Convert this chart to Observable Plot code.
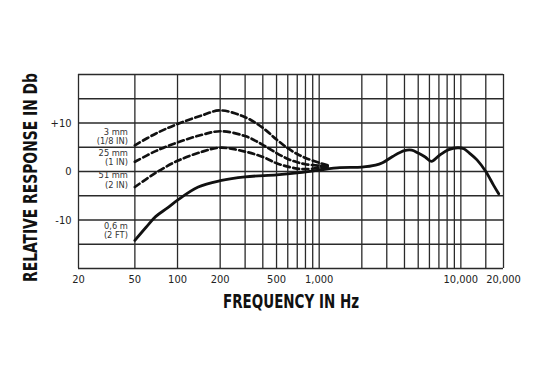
<!DOCTYPE html>
<html><head><meta charset="utf-8">
<script src="https://cdn.jsdelivr.net/npm/d3@7"></script>
<script src="https://cdn.jsdelivr.net/npm/@observablehq/plot@0.6"></script>
<style>
html,body{margin:0;padding:0;background:#fff;}
</style></head><body><div id="chart"></div>
<script>
// Proximity-effect frequency response
const dashFreq = [50, 70, 100, 150, 200, 300, 400, 500, 600, 700, 800, 1000, 1200];
const resp3mm  = [5.4, 7.8, 9.8, 11.6, 12.6, 11.2, 9.0, 6.6, 4.8, 3.6, 2.8, 1.8, 1.1];
const resp25mm = [2.0, 4.2, 6.0, 7.6, 8.3, 7.3, 5.5, 3.8, 2.6, 1.9, 1.5, 1.2, 1.0];
const resp51mm = [-3.2, -0.3, 2.2, 4.1, 4.9, 4.1, 3.0, 1.7, 1.0, 0.6, 0.5, 0.7, 1.0];
const farFreq  = [50, 60, 70, 85, 100, 140, 200, 300, 500, 700, 1000, 1400, 2000, 2500, 2800, 3300, 4000, 4500, 5000, 5600, 6200, 7100, 8200, 9500, 10500, 11500, 13000, 15000, 17000, 18500];
const resp06m  = [-14.2, -11.5, -9.3, -7.5, -5.9, -3.2, -1.9, -1.1, -0.7, -0.3, 0.3, 0.8, 0.9, 1.3, 1.8, 3.1, 4.3, 4.4, 3.8, 3.0, 2.1, 3.4, 4.5, 4.9, 4.7, 3.8, 2.4, 0.0, -2.8, -4.6];
const seriesLabels = ["3 mm\n(1/8 IN)", "25 mm\n(1 IN)", "51 mm\n(2 IN)", "0,6 m\n(2 FT)"];
const xTicks = [20, 50, 100, 200, 500, 1000, 10000, 20000];
const xTickLabels = ["20", "50", "100", "200", "500", "1,000", "10,000", "20,000"];
const yTicks = [-10, 0, 10];
const yTickLabels = ["-10", "0", "+10"];
const xGrid = [20, 50, 100, 200, 300, 400, 500, 600, 700, 800, 900, 1000, 2000, 3000, 4000, 5000, 6000, 7000, 8000, 9000, 10000, 15000, 20000];
const yGrid = [-20, -15, -10, -5, 0, 5, 10, 15, 20];
const xTitle = "FREQUENCY IN Hz";
const yTitle = "RELATIVE RESPONSE IN Db";

const narrow = '"Liberation Sans Narrow","DejaVu Sans Condensed","Roboto Condensed","Arial Narrow",sans-serif';
const heavy = '"DejaVu Sans Condensed","DejaVu Sans","Liberation Sans Narrow",sans-serif';

const toRows = (fx, vy) => fx.map((f, i) => ({f, v: vy[i]}));
const dashed = [resp3mm, resp25mm, resp51mm].map(a => toRows(dashFreq, a));
const solid = toRows(farFreq, resp06m);
const labelRows = [
  {f: dashFreq[0], v: resp3mm[0],  t: seriesLabels[0], dy: -9},
  {f: dashFreq[0], v: resp25mm[0], t: seriesLabels[1], dy: -4.5},
  {f: dashFreq[0], v: resp51mm[0], t: seriesLabels[2], dy: -7},
  {f: farFreq[0],  v: resp06m[0],  t: seriesLabels[3], dy: -9.5}
];
const pick = (ticks, labels) => d => {
  const i = ticks.findIndex(t => Math.abs(t - d) <= Math.abs(t) * 1e-6 + 1e-9);
  return i < 0 ? "" : labels[i];
};
const xTickRows = xTicks.map((f, i) => ({f, t: xTickLabels[i]}));

const ink = "#111";
const chart = Plot.plot({
  width: 543, height: 381,
  marginLeft: 78, marginRight: 40, marginTop: 74, marginBottom: 113,
  style: {background: "#fff", fontFamily: narrow, fontSize: "11px", color: "#222"},
  // log-scale axis would hide the "5" ticks, so its labels are drawn as a text mark on the x scale
  x: {type: "log", domain: [20, 20000], axis: null},
  y: {domain: [-20, 20], ticks: yTicks,
      tickFormat: pick(yTicks, yTickLabels), tickSize: 0, tickPadding: 7, label: null},
  marks: [
    Plot.ruleX(xGrid, {x: d => d, stroke: "#2a2a2a", strokeWidth: 1.3}),
    Plot.ruleY(yGrid, {y: d => d, stroke: "#2a2a2a", strokeWidth: 1.3}),
    Plot.text(xTickRows, {x: "f", text: "t", frameAnchor: "bottom", dy: 11, lineAnchor: "middle",
      fontSize: 11, fill: "#222"}),
    ...dashed.map(rows => Plot.line(rows, {x: "f", y: "v", curve: "catmull-rom",
      stroke: ink, strokeWidth: 2.7, strokeDasharray: "6,3.5"})),
    Plot.line(solid, {x: "f", y: "v", curve: "catmull-rom", stroke: ink, strokeWidth: 2.8}),
    ...labelRows.map(r => Plot.text([r], {x: "f", y: "v", text: "t", dx: -7, dy: r.dy,
      textAnchor: "end", lineAnchor: "middle", lineHeight: 1.0, fontSize: 9.2, fill: "#333"})),
    Plot.text([xTitle], {frameAnchor: "bottom", dy: 33, lineAnchor: "middle",
      fontFamily: heavy, fontWeight: 700, fontSize: 20, fill: "#111"}),
    Plot.text([yTitle], {frameAnchor: "left", lineAnchor: "middle",
      fontFamily: heavy, fontWeight: 700, fontSize: 20, fill: "#111"})
  ]
});

chart.querySelectorAll("text").forEach(t => {
  if (t.textContent === xTitle) {
    t.setAttribute("textLength", 136); t.setAttribute("lengthAdjust", "spacingAndGlyphs");
  }
  if (t.textContent === yTitle) {
    // place the rotated title explicitly: starts near the bottom, reads upward
    t.parentNode.removeAttribute("transform");
    t.removeAttribute("x"); t.removeAttribute("y");
    t.setAttribute("transform", "translate(37,282) rotate(-90)");
    t.setAttribute("text-anchor", "start");
    t.setAttribute("textLength", 209); t.setAttribute("lengthAdjust", "spacingAndGlyphs");
  }
});
document.getElementById("chart").appendChild(chart);
</script>
</body></html>
